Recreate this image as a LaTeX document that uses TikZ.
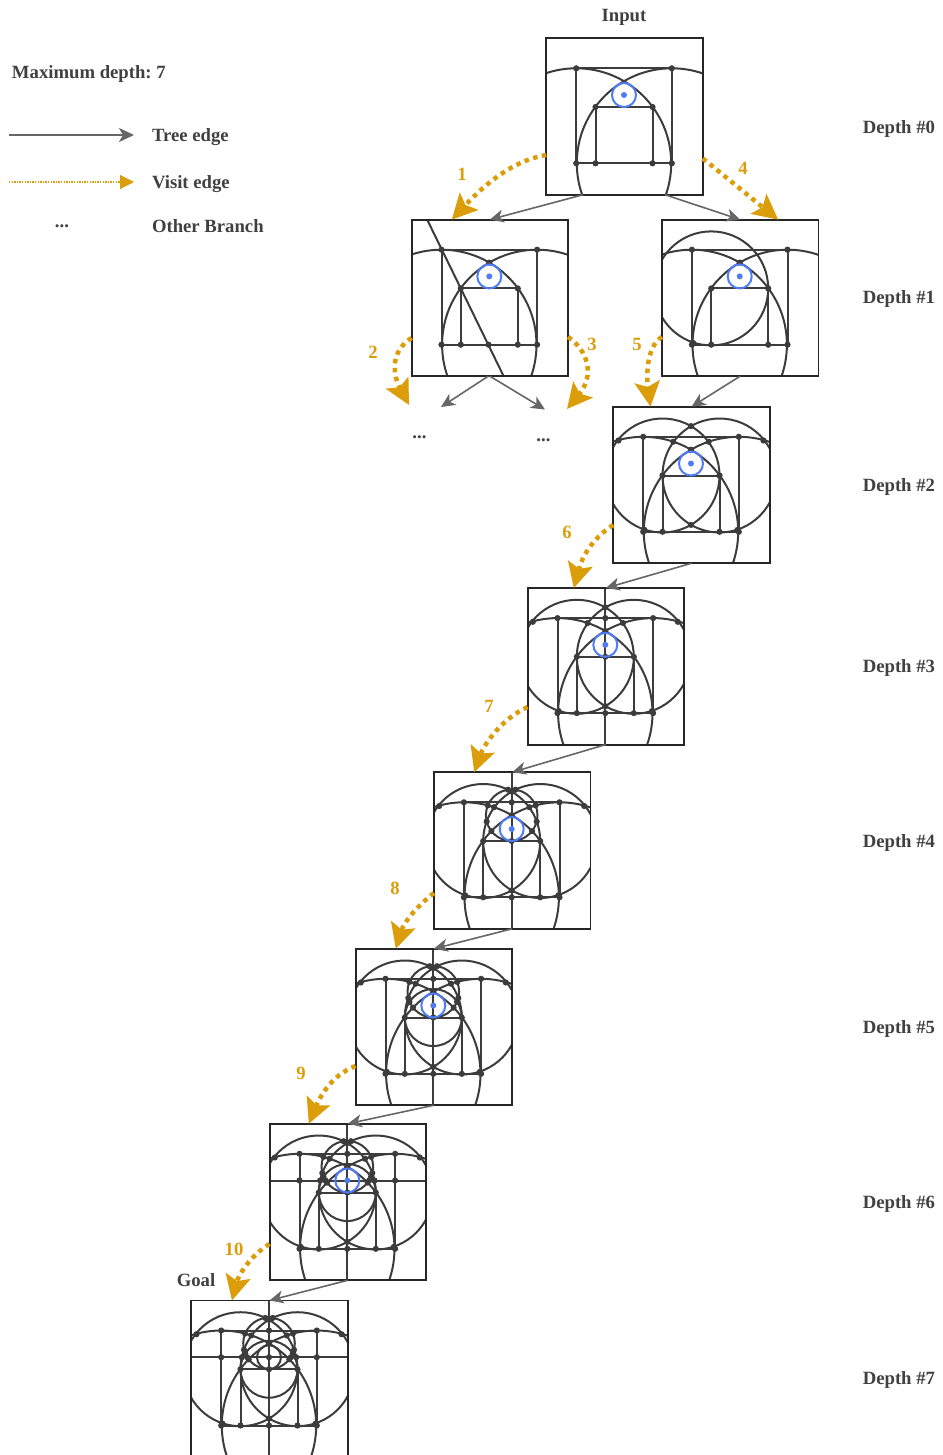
\documentclass[tikz,border=0pt]{standalone}
\usepackage{fontspec}
\setmainfont{Liberation Serif}
\usetikzlibrary{arrows.meta}

\definecolor{figgray}{HTML}{3C3C3C}
\definecolor{textgray}{HTML}{404040}
\definecolor{treegray}{HTML}{666666}
\definecolor{visitorange}{HTML}{DC9D0A}
\definecolor{markblue}{HTML}{4F7BF7}

\tikzset{
  boardbox/.style={draw=black!85, line width=1.9pt, minimum size=156.5pt, inner sep=0pt, outer sep=0pt},
  figline/.style={draw=figgray, line width=2pt},
  figdot/.style={fill=figgray},
  treeedge/.style={draw=treegray, line width=1.6pt, -{Stealth[length=14pt,width=13pt,inset=4pt]}},
  visitedge/.style={draw=visitorange, line width=4.5pt, dash pattern=on 4.5pt off 4.5pt, -{Stealth[length=25pt,width=25pt,inset=5pt]}},
  legendvisit/.style={draw=visitorange, line width=1.3pt, dash pattern=on 1.3pt off 1.3pt, -{Stealth[length=14pt,width=14pt,inset=0pt]}},
  lbl/.style={font=\fontsize{18.7}{20}\selectfont\bfseries\frenchspacing, text=textgray, inner sep=0pt, outer sep=0pt},
  visitlbl/.style={lbl, text=visitorange}
}

\newcommand{\figdots}[1]{\foreach \p in {#1} \fill[figdot] \p circle (3.1pt);}
\newcommand{\figblue}{
  \draw[draw=markblue, line width=2pt] (0,-21.5) circle (12pt);
  \fill[markblue] (0,-21.5) circle (3pt);
}
% input figure
\newcommand{\figzero}{
  \draw[figline] (-47.8,46.8) circle (95pt);
  \draw[figline] (47.8,46.8) circle (95pt);
  \draw[figline] (-47.8,-48.2) -- (47.8,-48.2) -- (47.8,46.8) -- (-47.8,46.8) -- cycle;
  \draw[figline] (-28.5,46.8) -- (-28.5,-9.5) -- (28.5,-9.5) -- (28.5,46.8);
  \figdots{(-47.8,-48.2),(47.8,-48.2),(-47.8,46.8),(47.8,46.8),(-28.5,-9.5),(28.5,-9.5),(-28.5,46.8),(28.5,46.8)}
}
\newcommand{\figtwo}{
  \figzero
  \draw[figline] (-28.5,-9.5) circle (57pt);
  \draw[figline] (28.5,-9.5) circle (57pt);
  \figdots{(0,-35.3),(0,-58.9),(0,39.9),(-17.7,-43.3),(17.7,-43.3),(-72.5,-44.5),(72.5,-44.5),(-46.6,44.8),(46.6,44.8)}
}
\newcommand{\figthree}{
  \figtwo
  \draw[figline] (0,-78) -- (0,78);
  \figdots{(0,-48.2),(0,-9.5),(0,46.8)}
}
\newcommand{\figfour}{
  \figthree
  \draw[figline] (0,-35.3) circle (25.8pt);
  \figdots{(-25,-29),(25,-29),(-3.7,-60.8),(3.7,-60.8),(-20.3,-19.4),(20.3,-19.4),(-23.9,-45.1),(23.9,-45.1)}
}
\newcommand{\figfive}{
  \figfour
  \draw[figline] (0,-9.5) circle (28.5pt);
  \figdots{(-23.8,-25.2),(23.8,-25.2)}
}
\newcommand{\figsix}{
  \figfive
  \draw[figline] (-79,-21.5) -- (79,-21.5);
  \figdots{(-47.8,-21.5),(47.8,-21.5),(-21.8,-21.5),(21.8,-21.5),(-27.2,-21.5),(27.2,-21.5)}
}
% name, x, y, figure
\newcommand{\board}[4]{
  \begin{scope}[shift={(#2,#3)}]
    \clip (-77.75,-78.25) rectangle (78.75,78.25);
    #4
  \end{scope}
  \node[boardbox] (#1) at (#2+0.5,#3) {};
}

\begin{document}
\begin{tikzpicture}[x=1pt,y=-1pt]
\useasboundingbox (0,0) rectangle (942,1455);

% boards
\board{input}{624}{116.5}{\figzero \figblue}
\board{depthoneleft}{489.3}{297.9}{\figzero
  \draw[figline] (-62,-78) -- (14.2,78);
  \figdots{(0,-35.3),(-0.8,46.8)}
  \figblue}
\board{depthoneright}{739.7}{297.9}{\figzero
  \draw[figline] (-28.5,-9.5) circle (57pt);
  \figdots{(0,-35.3),(-46.6,45)}
  \figblue}
\board{depthtwo}{691}{485}{\figtwo \figblue}
\board{depththree}{605.3}{666.3}{\figthree \figblue}
\board{depthfour}{511.7}{850.5}{\figfour \figblue}
\board{depthfive}{433.3}{1027}{\figfive \figblue}
\board{depthsix}{347.3}{1202}{\figsix \figblue}
\board{goal}{269}{1378.7}{\figsix
  \draw[figline] (0,-21.5) circle (12pt);
  \figdots{(0,-21.5)}}

% titles
\node[lbl, anchor=base] (inputlabel) at (624,22) {Input};
\node[lbl, anchor=base] (goallabel) at (196,1286) {Goal};
\node[lbl, anchor=base east] (depthzero) at (935,134) {Depth \#0};
\node[lbl, anchor=base east] (depthone) at (935,303) {Depth \#1};
\node[lbl, anchor=base east] (depthtwolabel) at (935,491) {Depth \#2};
\node[lbl, anchor=base east] (depththreelabel) at (935,672) {Depth \#3};
\node[lbl, anchor=base east] (depthfourlabel) at (935,847) {Depth \#4};
\node[lbl, anchor=base east] (depthfivelabel) at (935,1033) {Depth \#5};
\node[lbl, anchor=base east] (depthsixlabel) at (935,1208) {Depth \#6};
\node[lbl, anchor=base east] (depthsevenlabel) at (935,1384) {Depth \#7};

% legend
\node[lbl, anchor=base west] (maxdepth) at (12,79) {Maximum depth: 7};
\node[lbl, anchor=base west] (treelabel) at (152,142) {Tree edge};
\node[lbl, anchor=base west] (visitlabel) at (152,189) {Visit edge};
\node[lbl, anchor=base west] (otherlabel) at (152,233) {Other Branch};
\node[lbl, anchor=base] (otherdots) at (62,228) {...};
\coordinate (treestart) at (9,135);
\coordinate (treeend) at (134,135);
\coordinate (visitstart) at (9,182);
\coordinate (visitend) at (134,182);
\draw[treeedge, -{Stealth[length=15pt,width=14pt,inset=4pt]}] (treestart) -- (treeend);
\draw[legendvisit] (visitstart) -- (visitend);

% tree edges
\node[lbl, anchor=base] (dotsleft) at (419.5,438) {...};
\node[lbl, anchor=base] (dotsright) at (543.5,441) {...};
\coordinate (branchleft) at (441,407);
\coordinate (branchright) at (545,409.5);
\draw[treeedge] ([xshift=-41.5pt]input.south) -- (depthoneleft.north);
\draw[treeedge] ([xshift=40.5pt]input.south) -- (depthoneright.north);
\draw[treeedge] ([xshift=-1.5pt]depthoneleft.south) -- (branchleft);
\draw[treeedge] (depthoneleft.south) -- (branchright);
\draw[treeedge] (depthoneright.south) -- (depthtwo.north);
\draw[treeedge] (depthtwo.south) -- (depththree.north);
\draw[treeedge] (depththree.south) -- (depthfour.north);
\draw[treeedge] (depthfour.south) -- (depthfive.north);
\draw[treeedge] (depthfive.south) -- (depthsix.north);
\draw[treeedge] (depthsix.south) -- (goal.north);

% visit edges
\coordinate (visittwo) at (409,405);
\coordinate (visitthree) at (567,409);
\draw[visitedge] ([yshift=-38.5pt]input.west) .. controls +(-36,6) and +(30,-32) .. ([xshift=-38pt]depthoneleft.north);
\draw[visitedge] ([yshift=-40pt]depthoneleft.west) .. controls +(-22,14) and +(-16,-30) .. (visittwo);
\draw[visitedge] ([yshift=-39pt]depthoneleft.east) .. controls +(20,14) and +(28,-34) .. (visitthree);
\draw[visitedge] ([yshift=-42pt]input.east) .. controls +(25,20) and +(-25,-20) .. ([xshift=38pt]depthoneright.north);
\draw[visitedge] ([yshift=-39pt]depthoneright.west) .. controls +(-16,10) and +(-4,-30) .. ([xshift=-41pt]depthtwo.north);
\draw[visitedge] ([yshift=-40pt]depthtwo.west) .. controls +(-22,14) and +(8,-30) .. ([xshift=-32pt]depththree.north);
\draw[visitedge] ([yshift=-40.7pt]depththree.west) .. controls +(-26,12) and +(10,-28) .. ([xshift=-38pt]depthfour.north);
\draw[visitedge] ([yshift=-42.5pt]depthfour.west) .. controls +(-18,14) and +(8,-26) .. ([xshift=-38pt]depthfive.north);
\draw[visitedge] ([yshift=-39pt]depthfive.west) .. controls +(-26,10) and +(10,-24) .. ([xshift=-39pt]depthsix.north);
\draw[visitedge] ([yshift=-42pt]depthsix.west) .. controls +(-20,12) and +(6,-24) .. ([xshift=-37.5pt]goal.north);

% visit order
\node[visitlbl, anchor=base] (orderone) at (462,181) {1};
\node[visitlbl, anchor=base] (ordertwo) at (373,358) {2};
\node[visitlbl, anchor=base] (orderthree) at (592,350) {3};
\node[visitlbl, anchor=base] (orderfour) at (743,175) {4};
\node[visitlbl, anchor=base] (orderfive) at (637,350) {5};
\node[visitlbl, anchor=base] (ordersix) at (567,538) {6};
\node[visitlbl, anchor=base] (orderseven) at (489,712) {7};
\node[visitlbl, anchor=base] (ordereight) at (395,894) {8};
\node[visitlbl, anchor=base] (ordernine) at (301,1079) {9};
\node[visitlbl, anchor=base] (orderten) at (234,1255) {10};
\end{tikzpicture}
\end{document}
